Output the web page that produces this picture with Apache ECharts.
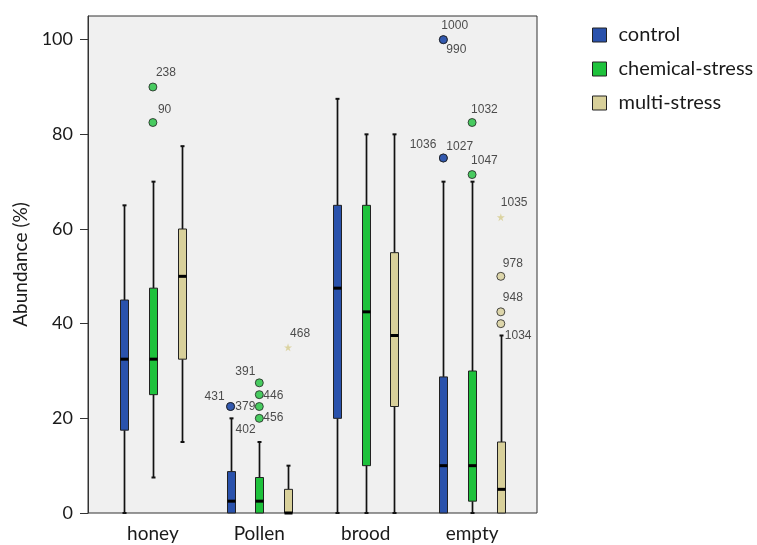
<!DOCTYPE html>
<html><head><meta charset="utf-8">
<script src="https://cdn.jsdelivr.net/npm/echarts@6/dist/echarts.min.js"></script>
<style>html,body{margin:0;padding:0;background:#fff}#c{width:757px;height:545px}</style>
</head><body><div id="c"></div>
<script>
// ---------------- data ----------------
const categories = ['honey', 'Pollen', 'brood', 'empty'];
const groups = ['control', 'chemical-stress', 'multi-stress'];
const yTicks = [0, 20, 40, 60, 80, 100];
// box summaries per category: [lower whisker, Q1, median, Q3, upper whisker]
const controlBoxes  = [[0, 17.5, 32.5, 45, 65], [0, 0, 2.5, 8.75, 20], [0, 20, 47.5, 65, 87.5], [0, 0, 10, 28.75, 70]];
const chemicalBoxes = [[7.5, 25, 32.5, 47.5, 70], [0, 0, 2.5, 7.5, 15], [0, 10, 42.5, 65, 80], [0, 2.5, 10, 30, 70]];
const multiBoxes    = [[15, 32.5, 50, 60, 77.5], [0, 0, 0, 5, 10], [0, 22.5, 37.5, 55, 80], [0, 0, 5, 15, 37.5]];
// outliers: [category, value, case id]
const controlOutliers  = [['Pollen', 22.5, '431'], ['Pollen', 22.5, '402'], ['empty', 100, '1000'], ['empty', 100, '990'], ['empty', 75, '1036'], ['empty', 75, '1027']];
const chemicalOutliers = [['honey', 90, '238'], ['honey', 82.5, '90'], ['Pollen', 27.5, '391'], ['Pollen', 25, '446'], ['Pollen', 22.5, '379'], ['Pollen', 20, '456'], ['empty', 82.5, '1032'], ['empty', 71.5, '1047']];
const multiOutliers    = [['empty', 50, '978'], ['empty', 42.5, '948'], ['empty', 40, '1034']];
// extreme values (stars)
const multiExtremes    = [['Pollen', 35, '468'], ['empty', 62.5, '1035']];

// ---------------- styles / layout ----------------
const fills = ['#2a52ac', '#1ec23c', '#d8d09a'];
const GROUP_OFFSET = 0.27;      // offset of each group's box from category centre (axis units)
const BOX_W = 8;
// label placement for the case ids: [align, dx, dy]
const labelPlace = {
  '431': ['right', -6, -10], '402': ['left', 5, 23], '1000': ['left', -2, -14], '990': ['left', 3, 10],
  '1036': ['right', -7, -13], '1027': ['left', 3, -11], '238': ['left', 3, -14], '90': ['left', 5, -13],
  '391': ['right', -4, -11], '446': ['left', 4, 1], '379': ['right', -4, 0], '456': ['left', 4, -1],
  '1032': ['left', -1, -13], '1047': ['left', -1, -14], '978': ['left', 2, -13], '948': ['left', 2, -14],
  '1034': ['left', 4, 12], '468': ['left', 2, -14], '1035': ['left', 0, -14]
};
const STAR = 'path://M50,0 L61,35 L98,35 L68,57 L79,91 L50,70 L21,91 L32,57 L2,35 L39,35 Z';

function boxData(boxes, g) {
  return boxes.map((b, i) => [i + (g - 1) * GROUP_OFFSET].concat(b));
}
function outlierData(list, g) {
  return list.map(([cat, v, id]) => {
    const p = labelPlace[id];
    return {
      value: [categories.indexOf(cat) + (g - 1) * GROUP_OFFSET, v],
      name: id,
      label: { show: true, formatter: id, position: 'inside', align: p[0], verticalAlign: 'middle', offset: [p[1], p[2]] }
    };
  });
}
function renderBox(color) {
  return function (params, api) {
    const x = api.value(0);
    const c = v => api.coord([x, v]);
    const cx = Math.round(c(0)[0]) + 0.5;
    const yMin = c(api.value(1))[1], yQ1 = c(api.value(2))[1], yMed = c(api.value(3))[1],
          yQ3 = c(api.value(4))[1], yMax = c(api.value(5))[1];
    const ls = { stroke: '#111', lineWidth: 1.7 };
    const ch = [];
    if (yMin - yQ1 > 0.5) {
      ch.push({ type: 'line', shape: { x1: cx, y1: yQ1, x2: cx, y2: yMin }, style: ls });
      ch.push({ type: 'rect', shape: { x: cx - 2, y: yMin - 1, width: 4, height: 2 }, style: { fill: '#111' } });
    }
    if (yQ3 - yMax > 0.5) {
      ch.push({ type: 'line', shape: { x1: cx, y1: yQ3, x2: cx, y2: yMax }, style: ls });
      ch.push({ type: 'rect', shape: { x: cx - 2, y: yMax - 1, width: 4, height: 2 }, style: { fill: '#111' } });
    }
    ch.push({ type: 'rect', shape: { x: cx - BOX_W / 2, y: yQ3, width: BOX_W, height: yQ1 - yQ3 },
              style: { fill: color, stroke: '#222', lineWidth: 1 } });
    ch.push({ type: 'line', shape: { x1: cx - BOX_W / 2, y1: yMed, x2: cx + BOX_W / 2, y2: yMed },
              style: { stroke: '#000', lineWidth: 3 } });
    return { type: 'group', children: ch };
  };
}

const labelStyle = { fontFamily: 'Liberation Sans, Arial, sans-serif', fontSize: 12, color: '#222' };
const boxSets = [controlBoxes, chemicalBoxes, multiBoxes];
const outSets = [controlOutliers, chemicalOutliers, multiOutliers];

const series = [];
groups.forEach((g, i) => {
  series.push({
    type: 'custom', name: g, renderItem: renderBox(fills[i]),
    data: boxData(boxSets[i], i), encode: { x: 0, y: [1, 2, 3, 4, 5] }, z: 2
  });
});
groups.forEach((g, i) => {
  series.push({
    type: 'scatter', name: g, symbol: 'circle', symbolSize: 8,
    itemStyle: { color: fills[i], borderColor: '#222', borderWidth: 1 },
    label: labelStyle, data: outlierData(outSets[i], i), z: 3
  });
});
series.push({
  type: 'scatter', name: 'multi-stress', symbol: STAR, symbolSize: 8,
  itemStyle: { color: '#d6cc8c' }, label: labelStyle, data: outlierData(multiExtremes, 2), z: 3
});

const chart = echarts.init(document.getElementById('c'), null, { renderer: 'canvas' });
chart.setOption({
  animation: false,
  backgroundColor: '#fff',
  textStyle: { fontFamily: 'Lato, sans-serif' },
  grid: { left: 88, right: 220, top: 16, bottom: 32, show: true, backgroundColor: '#f0f0f0', borderColor: '#333', borderWidth: 1 },
  legend: {
    orient: 'vertical', left: 587, top: 20, itemWidth: 14, itemHeight: 14, itemGap: 14, icon: 'rect', selectedMode: false,
    data: groups.map((g, i) => ({ name: g, itemStyle: { color: fills[i], borderColor: '#222', borderWidth: 1 } })),
    textStyle: { fontFamily: 'Lato', fontSize: 20, color: '#1a1a1a', padding: [0, 0, 0, 7] }
  },
  xAxis: {
    type: 'value', min: -0.61, max: 3.61,
    axisLine: { show: false, onZero: false }, axisTick: { show: false }, splitLine: { show: false },
    axisLabel: { customValues: [0, 1, 2, 3], formatter: v => categories[Math.round(v)], fontFamily: 'Lato', fontSize: 19, color: '#1a1a1a', margin: 11 }
  },
  yAxis: {
    type: 'value', min: 0, max: 105,
    name: 'Abundance (%)', nameLocation: 'middle', nameGap: 55,
    nameTextStyle: { fontFamily: 'Lato', fontSize: 19, color: '#1a1a1a' },
    axisLine: { show: true, onZero: false, lineStyle: { color: '#333' } },
    axisTick: { show: true, length: 8, customValues: yTicks, lineStyle: { color: '#333' } },
    axisLabel: { customValues: yTicks, fontFamily: 'Lato', fontSize: 18, color: '#1a1a1a', margin: 15 },
    splitLine: { show: false }
  },
  series: series
});
</script></body></html>
